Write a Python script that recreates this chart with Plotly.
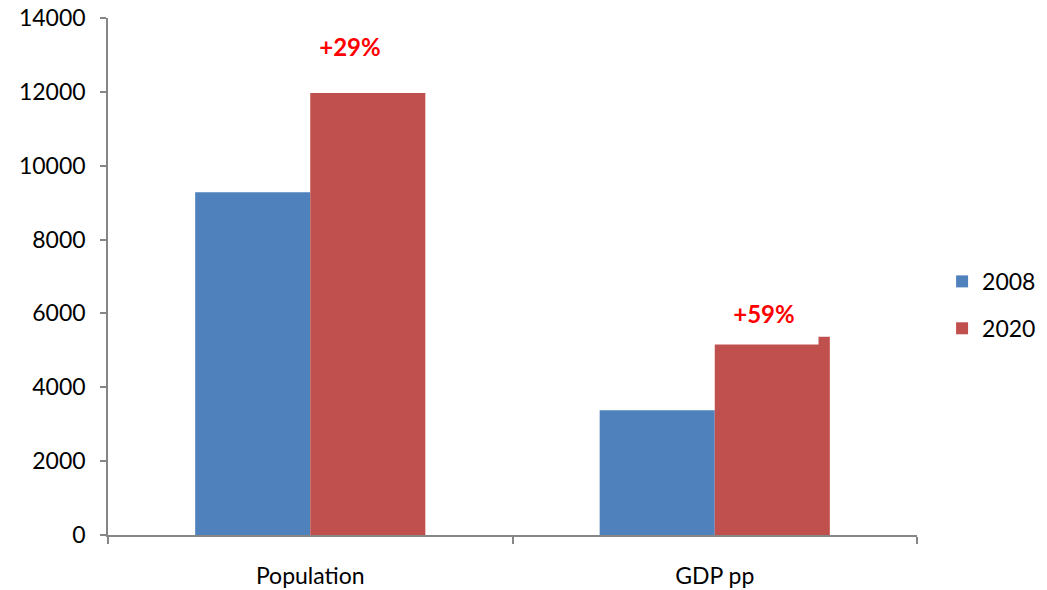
import plotly.graph_objects as go

categories = ["Population", "GDP pp"]
years = ["2008", "2020"]
values_2008 = [9280, 3380]
values_2020 = [11970, 5370]
growth_labels = ["+29%", "+59%"]
label_y = [13240, 6020]

colors = {"2008": "#4F81BD", "2020": "#C0504D"}
font_family = "Lato, 'Open Sans', Arial, sans-serif"

fig = go.Figure()
for yr, vals in zip(years, [values_2008, values_2020]):
    fig.add_trace(go.Bar(
        name=yr, x=categories, y=vals,
        marker=dict(color=colors[yr], line=dict(width=0)),
        legendgroup=yr,
    ))

# growth labels; the text boxes have a white fill like the originals
label_shift = [40, 49]
for cat, txt, ly, xs in zip(categories, growth_labels, label_y, label_shift):
    fig.add_annotation(
        x=cat, y=ly, xref="x", yref="y", text="<b>%s</b>" % txt,
        showarrow=False, xshift=xs, yanchor="middle", xanchor="center",
        font=dict(color="#FF0000", size=24, family=font_family),
        bgcolor="white", width=108, height=62, borderpad=0,
    )

fig.update_layout(
    width=1047, height=590,
    margin=dict(l=108, r=130, t=18, b=55, autoexpand=False),
    paper_bgcolor="white", plot_bgcolor="white",
    barmode="group", bargap=0.431, bargroupgap=0,
    font=dict(family=font_family, size=23, color="#000000"),
    showlegend=True,
    legend=dict(x=1.031, y=0.445, xanchor="left", yanchor="middle",
                tracegroupgap=14, font=dict(size=23),
                itemclick=False),
)
fig.update_xaxes(
    showline=True, linecolor="#868686", linewidth=1.5,
    ticks="outside", tickson="boundaries", ticklen=7, tickcolor="#868686",
    tickwidth=1.5, showgrid=False, zeroline=False,
    tickfont=dict(size=23), ticklabelstandoff=20, automargin=False,
)
fig.update_yaxes(
    range=[0, 14000], dtick=2000, tickformat="d",
    showline=True, linecolor="#868686", linewidth=1.5,
    ticks="outside", ticklen=6, tickcolor="#868686", tickwidth=1.5,
    showgrid=False, zeroline=False, tickfont=dict(size=23),
    ticklabelstandoff=10, automargin=False,
)

fig.write_html("out.html")
